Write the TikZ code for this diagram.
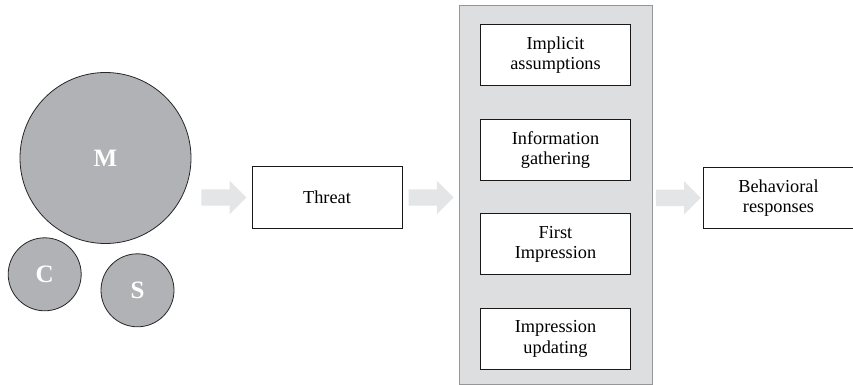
\documentclass[tikz,border=0pt]{standalone}
\usepackage{fontspec}
\setmainfont{Liberation Serif}
\usetikzlibrary{positioning,shapes.arrows}
\definecolor{ballgray}{RGB}{177,178,182}
\definecolor{panelgray}{RGB}{221,222,224}
\definecolor{arrowgray}{RGB}{228,229,230}
\definecolor{edgegray}{RGB}{150,150,152}
\begin{document}
\begin{tikzpicture}[x=1pt,y=-1pt,
  ball/.style={circle,draw=black!85,line width=0.8pt,fill=ballgray,text=white,
    font=\fontsize{25}{25}\selectfont\bfseries,inner sep=0pt},
  box/.style={draw=black!90,line width=0.9pt,fill=white,minimum width=150pt,
    minimum height=61pt,align=center,font=\fontsize{18.3}{20.3}\selectfont,inner sep=0pt},
  fat/.style={single arrow,fill=arrowgray,minimum width=33pt,minimum height=45pt,
    single arrow head extend=8.5pt,inner xsep=0pt,inner ysep=8pt}]
\useasboundingbox (0,0) rectangle (853,385);
% circles
\node[ball,minimum size=171pt] (m) at (105.5,158) {M};
\node[ball,minimum size=73pt] (c) at (44.7,274.3) {C};
\node[ball,minimum size=73pt] (s) at (137.5,290.3) {S};
% threat
\node[box,minimum height=62pt] (threat) at (327,197.5) {Threat};
\node[fat,left=5pt of threat] (a1) {};
\node[fat,right=6pt of threat] (a2) {};
% panel with the four steps
\node[draw=edgegray,line width=0.9pt,fill=panelgray,minimum width=193pt,minimum height=379pt,
  inner sep=0pt] (panel) at (555.5,194.5) {};
\node[box] (assume) at (555.5,55.3) {Implicit\\assumptions};
\node[box,below=32.6pt of assume] (gather) {Information\\gathering};
\node[box,below=32.6pt of gather] (first) {First\\Impression};
\node[box,below=32.6pt of first] (update) {Impression\\updating};
% response
\node[box] (behav) at (778.5,197.8) {Behavioral\\responses};
\node[fat,left=2pt of behav] (a3) {};
\end{tikzpicture}
\end{document}
